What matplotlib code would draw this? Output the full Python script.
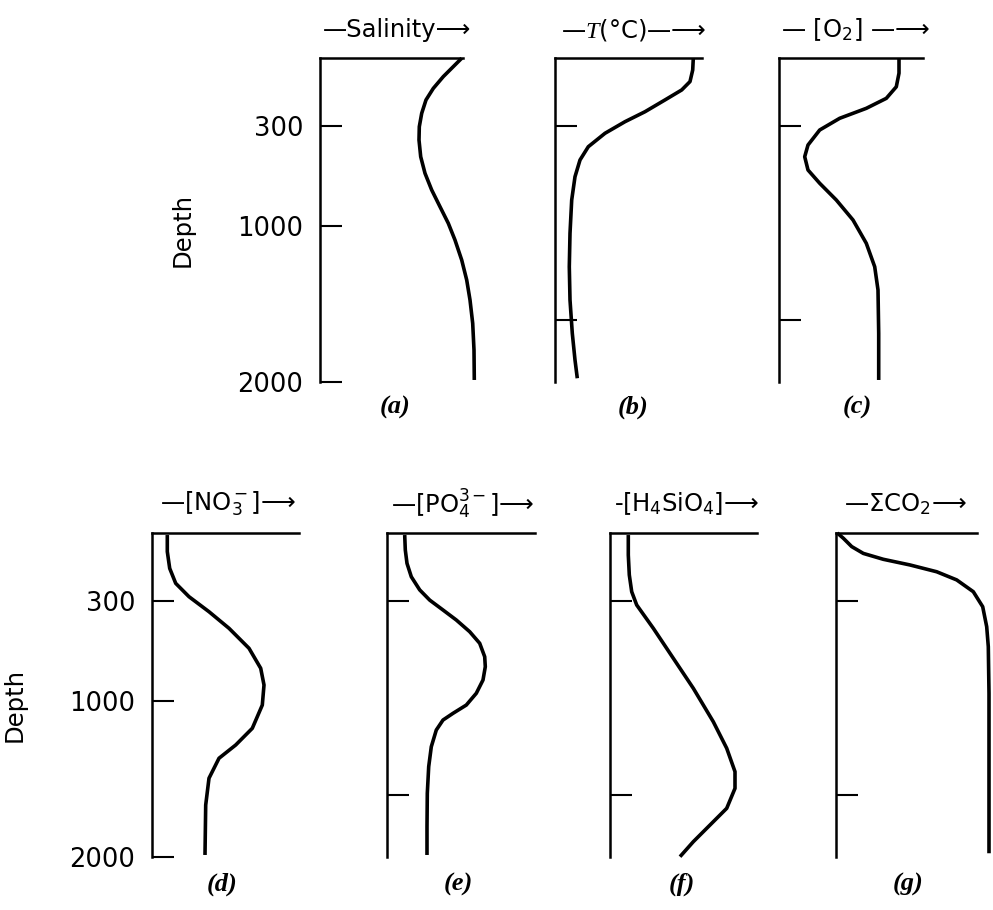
import numpy as np
import matplotlib
matplotlib.use("Agg")
import matplotlib.pyplot as plt

plt.rcParams["font.family"] = ["DejaVu Sans"]
plt.rcParams["mathtext.fontset"] = "custom"
plt.rcParams["mathtext.rm"] = "DejaVu Sans"
plt.rcParams["mathtext.it"] = "Liberation Serif:italic"

# depth (m) vs. relative value of each property
sal_depth = [1, 38, 82, 134, 185, 244, 305, 398, 515, 631, 748, 865, 981, 1090,
             1218, 1346, 1474, 1624, 1795, 1987]
sal_value = [141.7, 133.3, 123.3, 113.3, 106, 101.7, 99.3, 99, 100.7, 105, 111.7,
             120, 128.3, 135, 141.7, 146.7, 150, 152.7, 154, 154.3]

temp_depth = [1, 53, 104, 141, 185, 237, 281, 351, 445, 538, 655, 818, 1047, 1261,
              1474, 1688, 1859, 1976]
temp_value = [138.3, 137.7, 135, 126.7, 110, 90, 70, 50, 33.3, 25, 20, 16.7, 15,
              14.3, 15, 17.3, 20, 22.3]

o2_depth = [1, 67, 127, 178, 222, 266, 328, 433, 515, 608, 701, 818, 958, 1111,
            1261, 1410, 1688, 1987]
o2_value = [120, 120, 117.3, 107.3, 87.3, 60.7, 40.7, 29, 25.7, 29, 40.7, 57.3, 74,
            87.3, 95.7, 99, 99.7, 99.7]

no3_depth = [9, 82, 156, 222, 281, 375, 491, 631, 771, 888, 1026, 1175, 1282, 1367,
             1495, 1667, 1987]
no3_value = [15.3, 15.3, 17.7, 23.7, 37, 57, 77, 97, 108.7, 112, 110.3, 100.3, 83.7,
             67, 57, 53.7, 53]

po4_depth = [9, 75, 134, 193, 251, 296, 363, 433, 515, 596, 690, 760, 853, 946, 1026,
             1079, 1122, 1186, 1293, 1421, 1592, 1806, 1987]
po4_value = [17.7, 18.3, 20, 24.3, 32.7, 42.7, 56, 69.3, 82.7, 92.7, 97.7, 98.3, 96,
             89.3, 79.3, 66, 56, 49.3, 44.3, 41.7, 40.3, 40, 40]

si_depth = [9, 97, 185, 259, 328, 491, 701, 911, 1133, 1303, 1453, 1560, 1688, 1795,
            1902, 1998]
si_value = [18.3, 18.3, 19.3, 21.7, 26.7, 43.3, 63.3, 83.3, 103.3, 116.7, 125, 125,
            116.7, 100, 83.3, 70]

co2_depth = [0, 23, 60, 90, 116, 141, 171, 207, 259, 340, 480, 620, 946, 1976]
co2_value = [1.3, 7.3, 15.7, 27.3, 47.3, 74, 100.7, 120.7, 137.3, 146.7, 150.7,
             152.3, 153, 153]

titles = ["—Salinity⟶", "—$\\mathit{T}$(°C)—⟶", "— [O$_2$] —⟶",
          "—[NO$_3^-$]⟶", "—[PO$_4^{3-}$]⟶", "-[H$_4$SiO$_4$]⟶", "—ΣCO$_2$⟶"]
letters = ["(a)", "(b)", "(c)", "(d)", "(e)", "(f)", "(g)"]
depth_ticks = [300, 1000, 2000]
inner_ticks = [300, 1600]

profiles = [(sal_depth, sal_value), (temp_depth, temp_value), (o2_depth, o2_value),
            (no3_depth, no3_value), (po4_depth, po4_value), (si_depth, si_value),
            (co2_depth, co2_value)]

# the depth axis of the sketch is not linear
scale_d = [-1000, 0, 300, 1000, 2000, 3000]
scale_p = [-226.7, 0, 68, 168, 324, 480]


def fwd(d):
    return np.interp(d, scale_d, scale_p)


def inv(p):
    return np.interp(p, scale_p, scale_d)


W, H = 993, 910
fig = plt.figure(figsize=(W / 100, H / 100), dpi=100)

# pixel layout: left spine x, top y, top-line length, title centre x, letter centre x
lefts = [320, 555, 779, 152, 387, 610, 836]
tops = [58, 58, 58, 533, 533, 533, 533]
top_len = [143, 147, 144, 147, 148, 147, 141]
title_x = [397, 634, 856, 228, 463, 687, 905]
letter_x = [395, 633, 857, 222, 458, 682, 908]
ax_w = 155
ax_h = 324

for i, (dep, val) in enumerate(profiles):
    ax = fig.add_axes([lefts[i] / W, 1 - (tops[i] + ax_h) / H, ax_w / W, ax_h / H])
    ax.set_yscale("function", functions=(fwd, inv))
    ax.plot(val, dep, color="black", lw=2.6, clip_on=False,
            solid_joinstyle="round", solid_capstyle="butt")
    ax.set_xlim(0, ax_w)
    ax.set_ylim(2000, 0)
    ax.set_xticks([])
    ax.spines["right"].set_visible(False)
    ax.spines["bottom"].set_visible(False)
    ax.spines["top"].set_bounds(0, top_len[i])
    for s in ("left", "top"):
        ax.spines[s].set_linewidth(1.8)
    ax.yaxis.set_minor_locator(matplotlib.ticker.NullLocator())
    if i in (0, 3):
        ax.set_yticks(depth_ticks)
        ax.set_yticklabels([str(t) for t in depth_ticks])
        ax.set_ylabel("Depth", fontsize=17.5)
        ax.yaxis.set_label_coords(-0.806, 0.47)
    else:
        ax.set_yticks(inner_ticks)
        ax.set_yticklabels([])
    ax.tick_params(axis="y", direction="in", length=16, width=1.5, pad=12,
                   labelsize=18.5)

    fig.text(title_x[i] / W, 1 - 30 / H if i < 3 else 1 - 504 / H, titles[i],
             ha="center", va="center", fontsize=17.5)
    fig.text(letter_x[i] / W, 1 - 407 / H if i < 3 else 1 - 884 / H, letters[i],
             ha="center", va="center", fontsize=19, family="Liberation Serif",
             style="italic", weight="bold")

fig.savefig("out.png", dpi=100)
